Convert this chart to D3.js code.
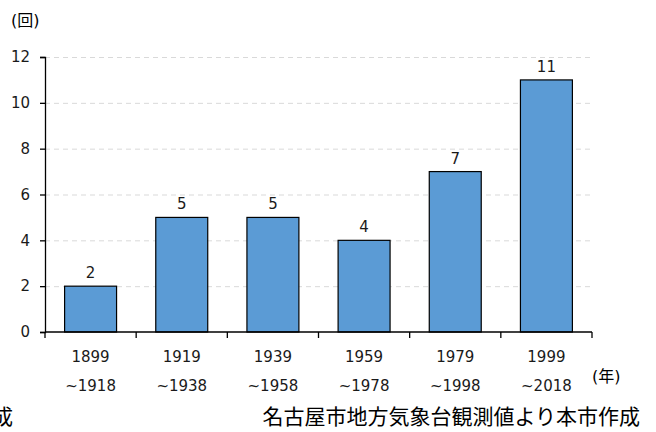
<!DOCTYPE html>
<html>
<head>
<meta charset="utf-8">
<script src="https://cdn.jsdelivr.net/npm/d3@7"></script>
<style>
  body { margin: 0; background: #fff; }
  text { font-family: "DejaVu Sans", "Noto Sans CJK JP", sans-serif; fill: #000; }
</style>
</head>
<body>
<svg id="chart"></svg>
<script>
// data
const periodStart = ["1899", "1919", "1939", "1959", "1979", "1999"];
const periodEnd = ["~1918", "~1938", "~1958", "~1978", "~1998", "~2018"];
const counts = [2, 5, 5, 4, 7, 11];
const yTicks = [0, 2, 4, 6, 8, 10, 12];

const width = 656;
const height = 432;
const margin = { left: 45, right: 64, top: 57, bottom: 100 };

const svg = d3.select("#chart").attr("width", width).attr("height", height);

const x = d3
  .scaleBand()
  .domain(periodStart)
  .range([margin.left, width - margin.right])
  .paddingInner(0.43)
  .paddingOuter(0.215);
const y = d3
  .scaleLinear()
  .domain([0, 12])
  .range([height - margin.bottom, margin.top]);

// dashed grid lines
svg
  .append("g")
  .selectAll("line")
  .data(yTicks.slice(1))
  .join("line")
  .attr("x1", margin.left)
  .attr("x2", width - margin.right)
  .attr("y1", (d) => y(d) + 0.5)
  .attr("y2", (d) => y(d) + 0.5)
  .attr("stroke", "#d9d9d9")
  .attr("stroke-width", 1)
  .attr("stroke-dasharray", "5,4");

// bars
svg
  .append("g")
  .selectAll("rect")
  .data(counts)
  .join("rect")
  .attr("x", (d, i) => x(periodStart[i]))
  .attr("y", (d) => y(d))
  .attr("width", x.bandwidth())
  .attr("height", (d) => y(0) - y(d))
  .attr("fill", "#5b9bd5")
  .attr("stroke", "#000")
  .attr("stroke-width", 1.2);

// value labels
svg
  .append("g")
  .selectAll("text")
  .data(counts)
  .join("text")
  .attr("x", (d, i) => x(periodStart[i]) + x.bandwidth() / 2)
  .attr("y", (d) => y(d) - 8)
  .attr("text-anchor", "middle")
  .style("font-size", "15px")
  .style("fill", "#1a1a1a")
  .text((d) => d);

// y axis
const yAxis = svg
  .append("g")
  .attr("transform", `translate(${margin.left},0)`)
  .call(d3.axisLeft(y).tickValues(yTicks).tickSize(5).tickPadding(10));
yAxis.select(".domain").attr("stroke", "#000").attr("stroke-width", 1.3);
yAxis.selectAll(".tick line").attr("stroke", "#000").attr("stroke-width", 1.3);
yAxis
  .selectAll(".tick text")
  .style("font-size", "15px")
  .style("font-family", "DejaVu Sans")
  .style("fill", "#1a1a1a");

// x axis with ticks at category boundaries
const boundaries = d3.range(periodStart.length + 1).map((i) => margin.left + i * ((width - margin.right - margin.left) / periodStart.length));
svg
  .append("line")
  .attr("x1", margin.left)
  .attr("x2", width - margin.right)
  .attr("y1", y(0))
  .attr("y2", y(0))
  .attr("stroke", "#000")
  .attr("stroke-width", 1.3);
svg
  .append("g")
  .selectAll("line")
  .data(boundaries)
  .join("line")
  .attr("x1", (d) => d)
  .attr("x2", (d) => d)
  .attr("y1", y(0))
  .attr("y2", y(0) + 6)
  .attr("stroke", "#000")
  .attr("stroke-width", 1.3);

const xLabels = svg
  .append("g")
  .selectAll("text")
  .data(periodStart)
  .join("text")
  .attr("x", (d) => x(d) + x.bandwidth() / 2)
  .attr("text-anchor", "middle")
  .style("font-size", "15px")
  .style("fill", "#1a1a1a");
xLabels.append("tspan").attr("x", (d) => x(d) + x.bandwidth() / 2).attr("y", 362).text((d) => d);
xLabels
  .append("tspan")
  .attr("x", (d) => x(d) + x.bandwidth() / 2)
  .attr("y", 391)
  .text((d, i) => periodEnd[i]);

// unit labels
svg.append("text").attr("x", 11).attr("y", 26).style("font-size", "16px").text("(回)");
svg.append("text").attr("x", 592).attr("y", 382).style("font-size", "16px").text("(年)");

// source notes
svg
  .append("text")
  .attr("x", 640)
  .attr("y", 424)
  .attr("text-anchor", "end")
  .style("font-size", "21px")
  .style("font-family", "Noto Sans CJK JP")
  .text("名古屋市地方気象台観測値より本市作成");
svg
  .append("text")
  .attr("x", 13)
  .attr("y", 424)
  .attr("text-anchor", "end")
  .style("font-size", "21px")
  .style("font-family", "Noto Sans CJK JP")
  .text("本市作成");
</script>
</body>
</html>
